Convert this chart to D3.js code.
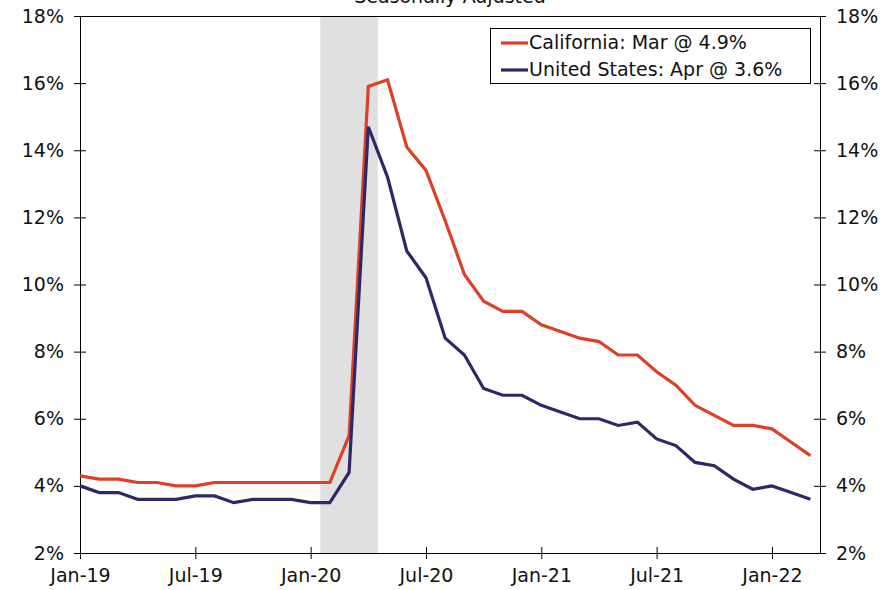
<!DOCTYPE html>
<html>
<head>
<meta charset="utf-8">
<script src="https://cdn.jsdelivr.net/npm/d3@7"></script>
<style>
  html, body { margin: 0; padding: 0; background: #fff; }
  svg { display: block; }
  text { font-family: "DejaVu Sans", Verdana, sans-serif; fill: #111; }
</style>
</head>
<body>
<svg id="chart" width="888" height="590"></svg>
<script>
const months = ["Jan-19","Feb-19","Mar-19","Apr-19","May-19","Jun-19","Jul-19","Aug-19","Sep-19","Oct-19","Nov-19","Dec-19",
  "Jan-20","Feb-20","Mar-20","Apr-20","May-20","Jun-20","Jul-20","Aug-20","Sep-20","Oct-20","Nov-20","Dec-20",
  "Jan-21","Feb-21","Mar-21","Apr-21","May-21","Jun-21","Jul-21","Aug-21","Sep-21","Oct-21","Nov-21","Dec-21",
  "Jan-22","Feb-22","Mar-22"];
const california = [4.3,4.2,4.2,4.1,4.1,4.0,4.0,4.1,4.1,4.1,4.1,4.1,
  4.1,4.1,5.5,15.9,16.1,14.1,13.4,11.9,10.3,9.5,9.2,9.2,
  8.8,8.6,8.4,8.3,7.9,7.9,7.4,7.0,6.4,6.1,5.8,5.8,
  5.7,5.3,4.9];
const unitedStates = [4.0,3.8,3.8,3.6,3.6,3.6,3.7,3.7,3.5,3.6,3.6,3.6,
  3.5,3.5,4.4,14.7,13.2,11.0,10.2,8.4,7.9,6.9,6.7,6.7,
  6.4,6.2,6.0,6.0,5.8,5.9,5.4,5.2,4.7,4.6,4.2,3.9,
  4.0,3.8,3.6];
const seriesNames = ["California: Mar @ 4.9%", "United States: Apr @ 3.6%"];
const seriesColors = ["#de3f27", "#2e2868"];
const xTickLabels = ["Jan-19","Jul-19","Jan-20","Jul-20","Jan-21","Jul-21","Jan-22"];
const yTicks = [2,4,6,8,10,12,14,16,18];
const recession = ["Feb-20","Apr-20"];
const title = "Seasonally Adjusted";

const svg = d3.select("#chart");
const L = 80, R = 820, T = 16, B = 553;
const FS = "19px";

const x = d3.scaleLinear().domain([0, months.length - 0.5]).range([L, R]);
const y = d3.scaleLinear().domain([2, 18]).range([B, T]);

// title (clipped at top as in original)
svg.append("text").attr("x", 450).attr("y", 3).attr("text-anchor", "middle")
  .style("font-size", FS).text(title);

// recession shading
const r0 = months.indexOf(recession[0]) - 0.5, r1 = months.indexOf(recession[1]) + 0.5;
svg.append("rect").attr("x", x(r0)).attr("y", T).attr("width", x(r1) - x(r0)).attr("height", B - T)
  .attr("fill", "#e0e0e0");

// top frame line
svg.append("line").attr("x1", L).attr("x2", R).attr("y1", T + 0.5).attr("y2", T + 0.5)
  .attr("stroke", "#000").attr("stroke-width", 1);

// axes
const fmt = d => d + "%";
const leftAxis = d3.axisLeft(y).tickValues(yTicks).tickFormat(fmt).tickSizeInner(6).tickSizeOuter(0).tickPadding(10);
const rightAxis = d3.axisRight(y).tickValues(yTicks).tickFormat(fmt).tickSizeInner(6).tickSizeOuter(0).tickPadding(10);
const xTickIdx = xTickLabels.map(l => months.indexOf(l));
const bottomAxis = d3.axisBottom(x).tickValues(xTickIdx).tickFormat(i => months[i]).tickSizeInner(6).tickSizeOuter(0).tickPadding(10);

function styleAxis(g, dir) {
  g.select(".domain").attr("stroke", "#000");
  g.selectAll(".tick line").attr("stroke", "#000");
  g.selectAll(".tick text").style("font-size", FS).attr("fill", "#111");
  g.selectAll(".tick line").each(function() {
    const ln = d3.select(this);
    if (dir === "v") { const x2 = +ln.attr("x2"); ln.attr("x1", -x2); }
    else { const y2 = +ln.attr("y2"); ln.attr("y1", -y2); }
  });
}

svg.append("g").attr("transform", `translate(${L},0)`).call(leftAxis).call(g => styleAxis(g, "v"));
svg.append("g").attr("transform", `translate(${R},0)`).call(rightAxis).call(g => styleAxis(g, "v"));
svg.append("g").attr("transform", `translate(0,${B})`).call(bottomAxis).call(g => styleAxis(g, "h"));
svg.selectAll("g .tick text").attr("font-family", null);

// lines
const line = d3.line().x((d, i) => x(i)).y(d => y(d));
[california, unitedStates].forEach((s, k) => {
  svg.append("path").datum(s).attr("d", line).attr("fill", "none")
    .attr("stroke", seriesColors[k]).attr("stroke-width", 3.2).attr("stroke-linejoin", "miter");
});

// legend
const lg = svg.append("g");
lg.append("rect").attr("x", 490.5).attr("y", 28.5).attr("width", 320).attr("height", 55)
  .attr("fill", "#fff").attr("stroke", "#000").attr("stroke-width", 1);
seriesNames.forEach((n, k) => {
  const yy = 43 + k * 27;
  lg.append("line").attr("x1", 501).attr("x2", 528).attr("y1", yy).attr("y2", yy)
    .attr("stroke", seriesColors[k]).attr("stroke-width", 3.2);
  lg.append("text").attr("x", 529).attr("y", yy + 6).style("font-size", FS).text(n);
});
</script>
</body>
</html>
